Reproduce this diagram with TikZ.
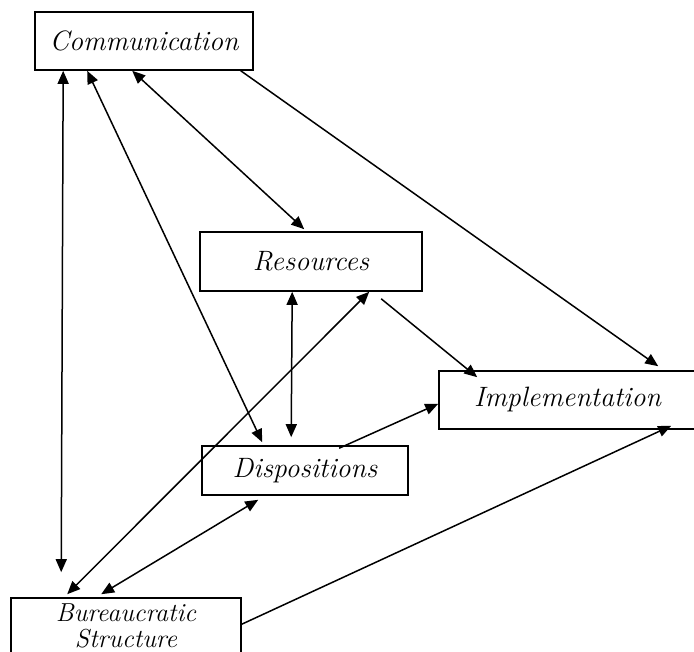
\documentclass[tikz,border=0pt]{standalone}
\usepackage{tikz}
\usetikzlibrary{arrows.meta,positioning}

\begin{document}
\begin{tikzpicture}[x=1pt,y=-1pt,>={Triangle[length=13pt,width=11pt]},
  box/.style={draw,line width=1.6pt,inner sep=0pt,font=\fontsize{28}{25}\selectfont\itshape},
  link/.style={line width=1.5pt}]
  \useasboundingbox (0,0) rectangle (694,652);
  \clip (0,0) rectangle (694,652);
  % the five factors
  \node[box,minimum width=218pt,minimum height=58pt] (comm) at (144,41) {Communication};
  \node[box,minimum width=222pt,minimum height=59pt] (res) at (311,261.5) {Resources};
  \node[box,minimum width=257pt,minimum height=58pt] (impl) at (567.5,400) {Implementation};
  \node[box,minimum width=206pt,minimum height=49pt] (disp) at (305,470.5) {Dispositions};
  \node[box,minimum width=230pt,minimum height=64pt,align=center,text depth=8pt,
    font=\fontsize{26}{26}\selectfont\itshape] (bur) at (126,630) {Bureaucratic\\Structure};
  % links
  \draw[link,<->] ([xshift=29pt]comm.south west) -- ([xshift=51pt,yshift=25pt]bur.north west);
  \draw[link,<->] ([xshift=53pt]comm.south west) -- ([xshift=61pt,yshift=3pt]disp.north west);
  \draw[link,<->] ([xshift=98pt]comm.south west) -- ([xshift=105pt,yshift=2pt]res.north west);
  \draw[link,->] ([xshift=-13pt]comm.south east) -- ([xshift=220pt,yshift=4pt]impl.north west);
  \draw[link,<->] ([xshift=93pt]res.south west) -- ([xshift=90pt,yshift=8pt]disp.north west);
  \draw[link,<->] ([xshift=170pt]res.south west) -- ([xshift=57pt,yshift=3pt]bur.north west);
  \draw[link,->] ([xshift=182pt,yshift=-7pt]res.south west) -- ([xshift=39pt,yshift=-7pt]impl.north west);
  \draw[link,->] ([xshift=138pt,yshift=-3pt]disp.north west) -- ([yshift=26pt]impl.south west);
  \draw[link,<->] ([xshift=57pt,yshift=-4pt]disp.south west) -- ([xshift=91pt,yshift=3pt]bur.north west);
  \draw[link,->] ([yshift=-27pt]bur.north east) -- ([xshift=233pt,yshift=4pt]impl.south west);
\end{tikzpicture}
\end{document}
